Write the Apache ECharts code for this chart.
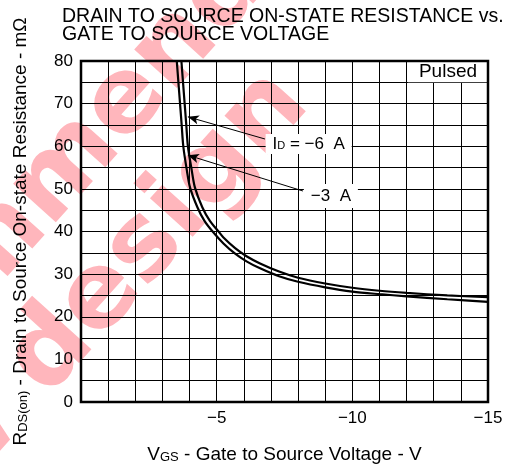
<!DOCTYPE html>
<html>
<head>
<meta charset="utf-8">
<script src="https://cdn.jsdelivr.net/npm/echarts@6/dist/echarts.min.js"></script>
<style>
  html, body { margin: 0; padding: 0; background: #fff; }
  #chart { width: 516px; height: 469px; }
</style>
</head>
<body>
<div id="chart"></div>
<script>
// curve readings, VGS (V) and RDS(on) (mOhm)
const vgs6 = [-3.70, -3.76, -3.82, -3.88, -3.94, -4.08, -4.20, -4.47, -4.75, -5.07, -5.25, -5.68, -6.1, -6.6, -7.3, -8.0, -9, -10, -11, -12, -13.5, -15]
const rds6 = [80, 75, 70, 65, 60, 54.4, 50.3, 45.7, 42.5, 40, 38.6, 36.1, 34.2, 32.5, 30.6, 29.15, 27.8, 26.8, 26.1, 25.6, 25.0, 24.6]
const vgs3 = [-3.53, -3.59, -3.65, -3.71, -3.77, -3.90, -4.02, -4.29, -4.55, -4.85, -5.25, -5.68, -6.1, -6.6, -7.3, -8.0, -9, -10, -11, -12, -13.5, -15]
const rds3 = [80, 75, 70, 65, 60, 54.4, 50.3, 45.7, 42.5, 40, 37.2, 34.8, 33.0, 31.35, 29.5, 28.2, 26.9, 25.9, 25.3, 24.8, 24.1, 23.5]

const xLabelValues = [-5, -10, -15]
const yLabelValues = [0, 10, 20, 30, 40, 50, 60, 70, 80]

const FONT = 'Liberation Sans'

const chart = echarts.init(document.getElementById('chart'))

const zip = (xs, ys) => xs.map((x, i) => [x, ys[i]])

const lineSeries = (name, xs, ys, extra) => Object.assign({
  name,
  type: 'line',
  data: zip(xs, ys),
  symbol: 'none',
  smooth: 0.3,
  lineStyle: { color: '#000', width: 2.2 },
  z: 3
}, extra)

const WM = { fill: '#ffb6bc', font: 'bold 105px "DejaVu Sans"', textAlign: 'right', textVerticalAlign: 'bottom' }
const WM_ROT = 48 * Math.PI / 180

const option = {
  animation: false,
  backgroundColor: '#fff',
  title: {
    text: 'DRAIN TO SOURCE ON-STATE RESISTANCE vs.\nGATE TO SOURCE VOLTAGE',
    left: 57,
    top: 2,
    textStyle: { fontFamily: FONT, fontSize: 19.5, fontWeight: 'normal', color: '#000', lineHeight: 18.5 }
  },
  graphic: [
    // watermark
    { type: 'text', z: -10, rotation: WM_ROT, x: 290, y: 0, style: Object.assign({ text: 'Not recommend' }, WM) },
    { type: 'text', z: -10, rotation: WM_ROT, x: 330, y: 122, style: Object.assign({ text: 'for new design' }, WM) }
  ],
  grid: {
    left: 81, right: 28, top: 61, bottom: 67,
    show: true, z: 10,
    backgroundColor: 'transparent',
    borderColor: '#000', borderWidth: 2.5
  },
  xAxis: {
    type: 'value',
    min: -15, max: 0, interval: 1,
    inverse: true,
    axisLine: { show: false },
    axisTick: { show: false },
    splitLine: { show: true, lineStyle: { color: '#000', width: 1 } },
    axisLabel: {
      margin: 8,
      fontFamily: FONT, fontSize: 17, color: '#000',
      formatter: v => xLabelValues.includes(v) ? '\u2212' + Math.abs(v) : ''
    },
    name: '{v|V}{s|GS}{v| - Gate to Source Voltage - V}',
    nameLocation: 'middle',
    nameGap: 43,
    nameTextStyle: {
      rich: {
        v: { fontFamily: FONT, fontSize: 19, color: '#000' },
        s: { fontFamily: FONT, fontSize: 13, color: '#000', padding: [5, 0, 0, 0] }
      }
    }
  },
  yAxis: {
    type: 'value',
    min: 0, max: 80, interval: 5,
    axisLine: { show: false },
    axisTick: { show: false },
    splitLine: { show: true, lineStyle: { color: '#000', width: 1 } },
    axisLabel: {
      margin: 8,
      fontFamily: FONT, fontSize: 17, color: '#000',
      formatter: v => yLabelValues.includes(v) ? String(v) : ''
    },
    name: '{v|R}{s|DS(on)}{v| - Drain to Source On-state Resistance - m\u03A9}',
    nameLocation: 'middle',
    nameRotate: 90,
    nameGap: 51,
    nameTextStyle: {
      rich: {
        v: { fontFamily: FONT, fontSize: 19, color: '#000' },
        s: { fontFamily: FONT, fontSize: 13, color: '#000', padding: [5, 0, 0, 0] }
      }
    }
  },
  series: [
    lineSeries('-6 A', vgs6, rds6, {
      markLine: {
        silent: true,
        symbol: ['none', 'arrow'],
        symbolSize: [7, 11],
        lineStyle: { color: '#000', width: 1, type: 'solid' },
        label: { show: false },
        data: [
          [{ coord: [-6.78, 61.7] }, { coord: [-3.94, 66.9] }],
          [{ coord: [-8.18, 49.5] }, { coord: [-3.94, 57.9] }]
        ]
      },
      markArea: {
        silent: true,
        itemStyle: { color: '#fff' },
        label: {
          show: true, position: 'inside',
          fontFamily: FONT, fontSize: 19, color: '#000'
        },
        data: [[{ name: 'Pulsed', xAxis: -12.05, yAxis: 75 }, { xAxis: -15, yAxis: 80 }]]
      },
      markPoint: {
        silent: true,
        symbol: 'rect',
        itemStyle: { color: '#fff' },
        label: {
          show: true, position: 'inside',
          fontFamily: FONT, fontSize: 17, color: '#000',
          rich: {
            v: { fontFamily: FONT, fontSize: 17, color: '#000' },
            s: { fontFamily: FONT, fontSize: 11, color: '#000', padding: [4, 0, 0, 0] }
          }
        },
        data: [
          { coord: [-8.39, 60.5], symbolSize: [86, 20], label: { formatter: '{v|I}{s|D}{v| = \u22126  A}' } },
          { coord: [-9.21, 48.3], symbolSize: [54, 24], label: { formatter: '{v|\u22123  A}' } }
        ]
      }
    }),
    lineSeries('-3 A', vgs3, rds3)
  ]
}

chart.setOption(option)
window.addEventListener('resize', () => chart.resize())
</script>
</body>
</html>
